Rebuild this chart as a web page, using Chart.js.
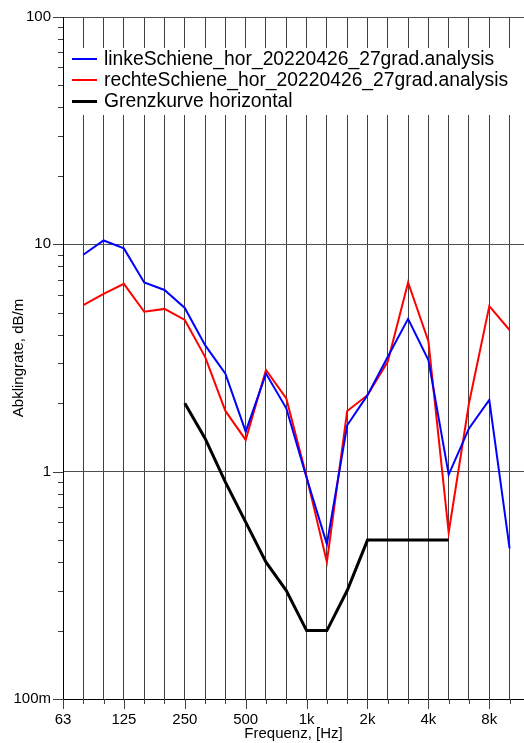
<!DOCTYPE html>
<html>
<head>
<meta charset="utf-8">
<script src="https://cdn.jsdelivr.net/npm/chart.js@4/dist/chart.umd.min.js"></script>
<style>
  html, body { margin: 0; padding: 0; background: #fff; overflow: hidden; }
  #wrap { width: 524px; height: 743px; position: relative; }
</style>
</head>
<body>
<div id="wrap"><canvas id="c"></canvas></div>
<script>
// Third-octave band centre frequencies (one x step per band)
const bands = ['63','80','100','125','160','200','250','315','400','500','630','800',
               '1k','1.25k','1.6k','2k','2.5k','3.15k','4k','5k','6.3k','8k','10k'];
// Bands that carry a label on the frequency axis
const shownBands = ['63','125','250','500','1k','2k','4k','8k'];

// Decay rate in dB/m per band (null = no value)
const linkeSchiene = [null, 9.0, 10.4, 9.6, 6.8, 6.3, 5.25, 3.6, 2.7, 1.5, 2.7, 1.9,
                      0.94, 0.48, 1.6, 2.17, 3.2, 4.7, 3.1, 0.97, 1.55, 2.07, 0.46];
const rechteSchiene = [null, 5.4, 6.05, 6.7, 5.05, 5.2, 4.65, 3.2, 1.85, 1.38, 2.8, 2.1,
                       0.95, 0.4, 1.85, 2.17, 3.05, 6.8, 3.75, 0.54, 2.0, 5.35, 4.2];
const grenzkurve = [null, null, null, null, null, null, 2.0, 1.4, 0.9, 0.6, 0.4, 0.3,
                    0.2, 0.2, 0.3, 0.5, 0.5, 0.5, 0.5, 0.5, null, null, null];

// Decade ticks of the logarithmic y axis
const yTickValues = [0.1, 1, 10, 100];
const yTickLabels = ['100m', '1', '10', '100'];

const seriesNames = ['linkeSchiene_hor_20220426_27grad.analysis',
                     'rechteSchiene_hor_20220426_27grad.analysis',
                     'Grenzkurve horizontal'];

const FONT = "'Liberation Sans', Arial, sans-serif";

function toPoints(arr) {
  const out = [];
  arr.forEach((v, i) => { if (v !== null) out.push({x: i, y: v}); });
  return out;
}

// Tick marks outside the axes: long at decades / labelled bands, short otherwise
const tickMarks = {
  id: 'tickMarks',
  afterDraw(chart) {
    const ctx = chart.ctx;
    const xs = chart.scales.x, ys = chart.scales.y;
    const area = chart.chartArea;
    ctx.save();
    ctx.strokeStyle = '#404040';
    ctx.lineWidth = 1;
    ctx.beginPath();
    for (let d = -1; d < 2; d++) {
      for (let m = 1; m <= 9; m++) {
        const v = m * Math.pow(10, d);
        const y = Math.round(ys.getPixelForValue(v)) + 0.5;
        const len = m === 1 ? 10 : 5;
        ctx.moveTo(area.left - len, y);
        ctx.lineTo(area.left, y);
      }
    }
    const yTop = Math.round(ys.getPixelForValue(100)) + 0.5;
    ctx.moveTo(area.left - 10, yTop);
    ctx.lineTo(area.left, yTop);
    bands.forEach((b, i) => {
      const x = Math.round(xs.getPixelForValue(i)) + 0.5;
      const len = shownBands.includes(b) ? 10 : 5;
      ctx.moveTo(x, area.bottom);
      ctx.lineTo(x, area.bottom + len);
    });
    ctx.stroke();
    ctx.restore();
  }
};

// Legend box drawn inside the plot area
const innerLegend = {
  id: 'innerLegend',
  afterDatasetsDraw(chart) {
    const ctx = chart.ctx;
    const area = chart.chartArea;
    ctx.save();
    ctx.fillStyle = '#ffffff';
    ctx.fillRect(area.left + 1, 48, chart.width - area.left, 67);
    ctx.font = '19.3px ' + FONT;
    ctx.textBaseline = 'middle';
    ctx.textAlign = 'left';
    chart.data.datasets.forEach((ds, i) => {
      const y = 58.5 + i * 21.3;
      ctx.strokeStyle = ds.borderColor;
      ctx.lineWidth = ds.borderWidth;
      ctx.beginPath();
      ctx.moveTo(72, Math.round(y) + (ds.borderWidth % 2 ? 0.5 : 0));
      ctx.lineTo(97, Math.round(y) + (ds.borderWidth % 2 ? 0.5 : 0));
      ctx.stroke();
      ctx.fillStyle = '#000';
      ctx.fillText(ds.label, 104, y + 1);
    });
    ctx.restore();
  }
};

new Chart(document.getElementById('c'), {
  type: 'line',
  data: {
    datasets: [
      { label: seriesNames[0], data: toPoints(linkeSchiene), borderColor: '#0000ff', borderWidth: 2 },
      { label: seriesNames[1], data: toPoints(rechteSchiene), borderColor: '#ff0000', borderWidth: 2 },
      { label: seriesNames[2], data: toPoints(grenzkurve), borderColor: '#000000', borderWidth: 3 }
    ]
  },
  options: {
    responsive: true,
    maintainAspectRatio: false,
    animation: false,
    devicePixelRatio: 1,
    layout: { padding: { top: 17, right: 0, bottom: 0, left: 0 } },
    elements: {
      point: { radius: 0, hoverRadius: 0 },
      line: { tension: 0, fill: false, borderJoinStyle: 'miter' }
    },
    plugins: { legend: { display: false }, tooltip: { enabled: false } },
    scales: {
      x: {
        type: 'linear',
        min: 0,
        max: 22.71,
        afterBuildTicks(scale) {
          scale.ticks = bands.map((b, i) => ({ value: i }));
        },
        afterFit(scale) {
          scale.height = 44;
          scale.paddingLeft = 0;
          scale.paddingRight = 0;
        },
        ticks: {
          autoSkip: false,
          maxRotation: 0,
          padding: 12,
          color: '#000',
          font: { family: FONT, size: 15 },
          callback(v) {
            const b = bands[v];
            return shownBands.includes(b) ? b : '';
          }
        },
        grid: { color: '#404040', lineWidth: 1, drawTicks: false },
        border: { color: '#000', width: 1 },
        title: {
          display: true,
          text: 'Frequenz, [Hz]',
          color: '#000',
          font: { family: FONT, size: 15 },
          padding: { top: 0, bottom: 0 }
        }
      },
      y: {
        type: 'logarithmic',
        min: 0.1,
        max: 100,
        afterBuildTicks(scale) {
          scale.ticks = yTickValues.map(v => ({ value: v }));
        },
        afterFit(scale) {
          scale.width = 63;
          scale.paddingTop = 0;
          scale.paddingBottom = 0;
        },
        ticks: {
          padding: 12,
          color: '#000',
          font: { family: FONT, size: 15 },
          callback(v) {
            const i = yTickValues.findIndex(t => Math.abs(t - v) < 1e-9);
            return i >= 0 ? yTickLabels[i] : '';
          }
        },
        grid: { color: '#505050', lineWidth: 1, drawTicks: false },
        border: { color: '#000', width: 1 },
        title: {
          display: true,
          text: 'Abklingrate, dB/m',
          color: '#000',
          font: { family: FONT, size: 15 },
          padding: { top: 10, bottom: 0 }
        }
      }
    }
  },
  plugins: [tickMarks, innerLegend]
});
</script>
</body>
</html>
